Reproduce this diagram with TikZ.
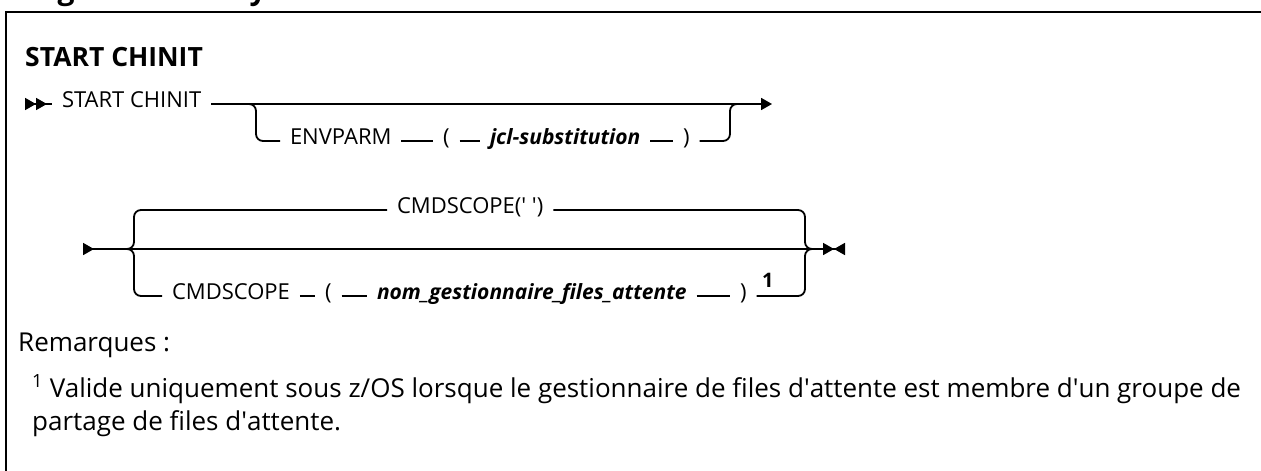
\documentclass[tikz,border=0pt]{standalone}
\usepackage{fontspec}
\setmainfont{Open Sans}
\usetikzlibrary{arrows.meta}
\tikzset{
  railtip/.tip={Triangle[length=11pt,width=12pt]},
  railback/.tip={Triangle[length=11pt,width=12pt,reversed]}}

\begin{document}
\begin{tikzpicture}[x=1pt,y=-1pt,
  rail/.style={line width=1.8pt,line cap=butt},
  fork/.style={rail,rounded corners=7pt},
  tok/.style={inner sep=0pt,outer sep=10pt,anchor=west,
    text height=0.714em,text depth=0pt,font=\fontsize{22}{26}\selectfont},
  var/.style={tok,font=\fontsize{21}{26}\selectfont\bfseries\itshape},
  note/.style={inner sep=0pt,anchor=base west,font=\fontsize{26}{30}\selectfont}]
  \useasboundingbox (0,0) rectangle (1261,471);
  % frame, heading cut at the top
  \begin{scope}
    \clip (0,0) rectangle (1261,471);
    \node[inner sep=0pt,anchor=base west,font=\fontsize{30}{34}\selectfont\bfseries]
      (head) at (8,-1) {Diagramme de syntaxe};
  \end{scope}
  \draw[line width=2.5pt] (1261,12) -| (6,471);
  \node[inner sep=0pt,anchor=base west,font=\fontsize{26.5}{30}\selectfont\bfseries]
    (title) at (25,66) {START CHINIT};
  % first line
  \coordinate (a0) at (25,104);
  \coordinate (a1) at (248,104);
  \coordinate (a2) at (738,104);
  \coordinate (a3) at (772,104);
  \node[tok] (start) at (52,104) {START CHINIT};
  \node[tok] (envparm) at (280,141) {ENVPARM};
  \node[tok] (lpb) at (433,141) {(};
  \node[var] (jcl) at (480,141) {jcl-substitution\ };
  \node[tok] (rpb) at (673,141) {)};
  \draw[rail,{railback[]railback[]}-] (a0) -- (start);
  \draw[rail,-{railtip[]}] (start) -- (a3);
  \draw[fork] (a1) -- ++(8,0) |- (envparm.west);
  \draw[rail] (envparm) -- (lpb) (lpb) -- (jcl) (jcl) -- (rpb);
  \draw[fork] (rpb.east) -| ([xshift=-8pt]a2) -- (a2);
  % second line
  \coordinate (d0) at (83,249);
  \coordinate (d1) at (127,249);
  \coordinate (d2) at (813,249);
  \coordinate (d3) at (845,249);
  \node[tok] (blank) at (387,210) {CMDSCOPE(\textquotesingle\ \textquotesingle)};
  \node[tok] (cmds) at (162,296) {CMDSCOPE};
  \node[tok] (lpe) at (315,296) {(};
  \node[var] (qmgr) at (367,296) {nom\_gestionnaire\_files\_attente\ };
  \node[tok] (rpe) at (730,296) {)};
  \node[inner sep=0pt,anchor=base west,font=\fontsize{20}{24}\selectfont\bfseries]
    (fn) at (762,287) {1};
  \draw[rail,{railback[]}-] (d0) -- (d1);
  \draw[rail] (d1) -- (d2);
  \draw[rail,-{railtip[]railback[]}] (d2) -- (d3);
  \draw[fork] (d1) -- ++(7,0) |- (blank.west);
  \draw[fork] (blank.east) -| ([xshift=-8pt]d2) -- (d2);
  \draw[fork] (d1) -- ++(7,0) |- (cmds.west);
  \draw[fork] (rpe.east) -| ([xshift=-8pt]d2) -- (d2);
  \draw[rail] (cmds) -- (lpe) (lpe) -- (qmgr) (qmgr) -- (rpe);
  % notes
  \node[note] (rem) at (18,351) {Remarques :};
  \node[note] (n1) at (32,397) {\textsuperscript{1} Valide uniquement sous z/OS lorsque le gestionnaire de files d\textquotesingle attente est membre d\textquotesingle un groupe de};
  \node[note] (n2) at (32,430) {partage de files d\textquotesingle attente.};
\end{tikzpicture}
\end{document}
